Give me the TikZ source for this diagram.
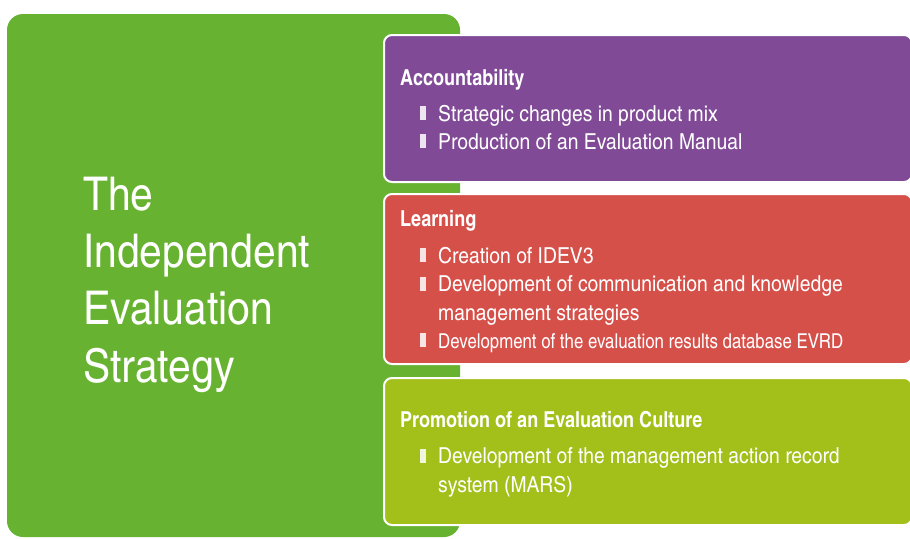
\documentclass[tikz,border=0pt]{standalone}
\usepackage{fontspec}
\setmainfont{texgyreheroscn}[Extension=.otf, UprightFont=*-regular, BoldFont=*-bold]
\newfontfamily\widefont{texgyreheroscn}[Extension=.otf, UprightFont=*-regular, FakeStretch=1.07]
\definecolor{leafgreen}{HTML}{67B230}
\definecolor{plum}{HTML}{804A96}
\definecolor{brick}{HTML}{D6504A}
\definecolor{olive}{HTML}{A2BF1A}
\begin{document}
\begin{tikzpicture}[x=1pt,y=-1pt,
  panel/.style={draw=white, line width=2pt, rounded corners=8pt},
  heading/.style={anchor=base west, inner sep=0pt, text=white, font=\fontsize{22}{28}\selectfont\bfseries},
  item/.style={anchor=base west, inner sep=0pt, text=white, align=left, font=\widefont\fontsize{22}{28.5}\selectfont},
  title/.style={anchor=base west, inner sep=0pt, text=white, align=left, font=\widefont\fontsize{46.5}{57.3}\selectfont},
  bar/.style={fill=white, fill opacity=0.85}]
\useasboundingbox (0,0) rectangle (910,538);

% green backdrop with the title (base anchor sits on the last line)
\fill[leafgreen, rounded corners=16pt] (7,14) rectangle (460,537);
\node[title] (title) at (83,382) {The\\Independent\\Evaluation\\Strategy};

% three coloured panels
\draw[panel, fill=plum]  (384,35)  rectangle (912,182);
\draw[panel, fill=brick] (384,194) rectangle (912,364);
\draw[panel, fill=olive] (384,378) rectangle (912,525);

% Accountability
\node[heading] (h1) at (400,85) {Accountability};
\node[item] (a1) at (438,121) {Strategic changes in product mix};
\node[item] (a2) at (438,149) {Production of an Evaluation Manual};

% Learning
\node[heading] (h2) at (400,226) {Learning};
\node[item] (l1) at (438,263) {Creation of IDEV3};
\node[item] (l2) at (438,320) {Development of communication and knowledge\\management strategies};
\node[item, font=\fontsize{20.5}{26}\selectfont] (l3) at (438,348) {Development of the evaluation results database EVRD};

% Promotion of an Evaluation Culture
\node[heading] (h3) at (400,427) {Promotion of an Evaluation Culture};
\node[item] (p1) at (438,492) {Development of the management action record\\system (MARS)};

% bullet bars, one per item, level with its first line
\foreach \n/\k in {a1/0,a2/0,l1/0,l2/1,l3/0,p1/1}
  \fill[bar] ([xshift=-18pt,yshift=\k*28.5pt+1pt]\n.base west) rectangle ++(5.5pt,14pt);
\end{tikzpicture}
\end{document}
